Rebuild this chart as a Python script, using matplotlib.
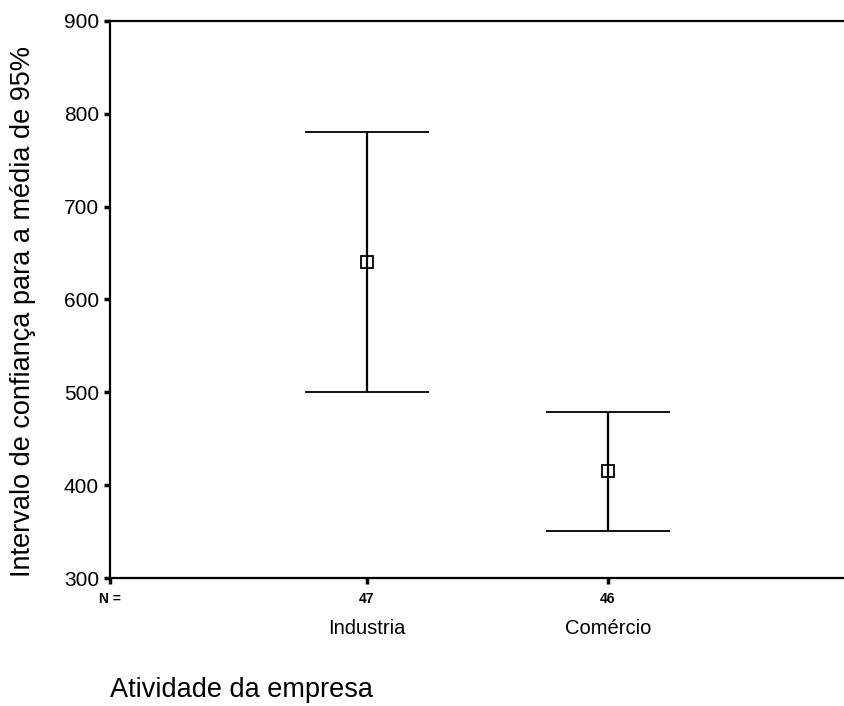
#intervalo de confiança da média por atividade da empresa

import numpy as np
import matplotlib.pyplot as plt

plt.rcParams['font.family'] = ['Liberation Sans', 'DejaVu Sans']

categorias = ["Industria", "Comércio"]
n_obs = [47, 46]
medias = [640, 415]
limite_inf = [500, 351]
limite_sup = [780, 479]

x = np.arange(1, len(categorias) + 1)
medias = np.array(medias)
err = [medias - np.array(limite_inf), np.array(limite_sup) - medias]

fig = plt.figure(figsize=(8.45, 7.06), dpi=100)
ax = fig.add_axes([0.1302, 0.1813, 0.903, 0.789])

ax.errorbar(x, medias, yerr=err, fmt='s', color='black', mfc='none', mec='black',
            markersize=9, mew=1.3, elinewidth=1.6, capsize=44.5, capthick=1.6)

ax.set_xlim(-0.066, 3.1)
ax.set_ylim(300, 900)
ax.set_yticks([300, 400, 500, 600, 700, 800, 900])

ax.set_xticks([-0.066] + list(x))
ax.set_xticklabels(["N ="] + [str(n) for n in n_obs], fontsize=10, fontweight='bold')

for xi, nome in zip(x, categorias):
    ax.annotate(nome, xy=(xi, 0), xycoords=('data', 'axes fraction'),
                xytext=(0, -36), textcoords='offset points',
                ha='center', va='center', fontsize=14.5)

for s in ['left', 'bottom', 'top']:
    ax.spines[s].set_linewidth(1.6)
ax.spines['right'].set_visible(False)

ax.tick_params(axis='y', length=4, width=2.5, labelsize=15, pad=4)
ax.tick_params(axis='x', length=4, width=2.5, pad=6)

ax.set_ylabel("Intervalo de confiança para a média de 95%", fontsize=19.5, va='center')
ax.yaxis.set_label_coords(-0.114, 0.479)
ax.set_xlabel("Atividade da empresa", fontsize=19.5, loc='left', va='center')
ax.xaxis.set_label_coords(0.0, -0.201)

plt.savefig("out.png", dpi=100)
